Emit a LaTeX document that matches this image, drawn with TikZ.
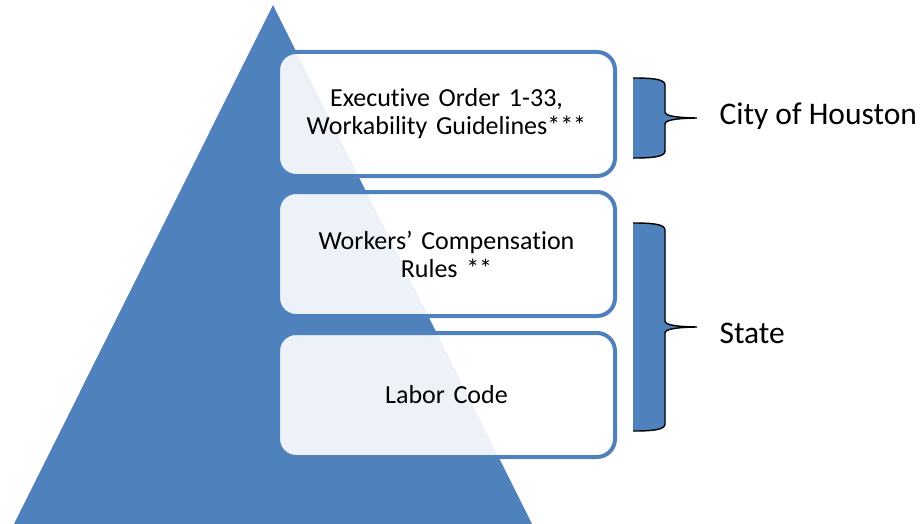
\documentclass[tikz,border=0pt]{standalone}
\usepackage{fontspec}
\setmainfont{Carlito}[Ligatures=NoCommon]
\usepackage{xcolor}
\usepackage{tikz}
\usetikzlibrary{positioning}

\definecolor{tierblue}{RGB}{79,129,189}

\begin{document}
\begin{tikzpicture}[x=1pt,y=-1pt,
    tier/.style={draw=tierblue,line width=4pt,fill=white,fill opacity=.9,
      text opacity=1,rounded corners=18pt,minimum width=337pt,
      minimum height=124pt,text width=320pt,align=center,outer sep=0pt,
      font=\fontsize{26}{28}\selectfont},
    side/.style={anchor=base west,font=\fontsize{31.5}{36}\selectfont}]
\useasboundingbox (0,0) rectangle (921,524);
% pyramid
  \fill[tierblue] (273,5) -- (532,524) -- (14,524) -- cycle;
% the three tiers
  \node (order) [tier] at (446.5,114) {Executive Order 1-33,\\Workability Guidelines***};
  \node (comp) [tier,below=16pt of order] {Workers’ Compensation\\Rules **};
  \node (labor) [tier,below=17pt of comp] {Labor Code};
% city brace
  \fill[tierblue] (633,78) .. controls (652,78) and (665,79) .. (665,85) -- (665,112)
    .. controls (665,116) and (676,117.6) .. (697,118)
    .. controls (676,118.4) and (665,120) .. (665,124) -- (665,151)
    .. controls (665,157) and (652,158) .. (633,158) -- cycle;
  \draw[line width=1.4pt] (633,78) .. controls (652,78) and (665,79) .. (665,85) -- (665,112)
    .. controls (665,116) and (676,117.6) .. (697,118)
    .. controls (676,118.4) and (665,120) .. (665,124) -- (665,151)
    .. controls (665,157) and (652,158) .. (633,158);
  \coordinate (cityTip) at (697,118);
% state brace
  \fill[tierblue] (633,223) .. controls (652,223) and (665,224) .. (665,230) -- (665,321)
    .. controls (665,325) and (676,326.6) .. (697,327)
    .. controls (676,327.4) and (665,329) .. (665,333) -- (665,424)
    .. controls (665,430) and (652,431) .. (633,431) -- cycle;
  \draw[line width=1.4pt] (633,223) .. controls (652,223) and (665,224) .. (665,230) -- (665,321)
    .. controls (665,325) and (676,326.6) .. (697,327)
    .. controls (676,327.4) and (665,329) .. (665,333) -- (665,424)
    .. controls (665,430) and (652,431) .. (633,431);
  \coordinate (stateTip) at (697,327);
% labels
  \node (city) [side] at ([xshift=19pt,yshift=-7pt]cityTip) {City of Houston};
  \node (state) [side] at ([xshift=19pt,yshift=-16pt]stateTip) {State};
\end{tikzpicture}
\end{document}
